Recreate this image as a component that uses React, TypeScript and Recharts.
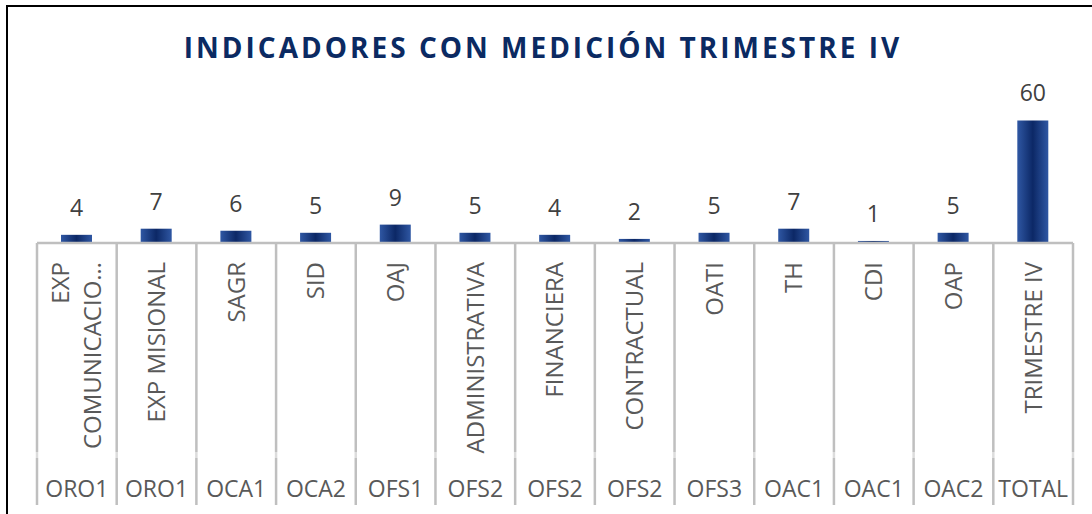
import { BarChart, Bar, XAxis, YAxis, LabelList } from "recharts"

const categories = [
    "EXP\nCOMUNICACIO…",
    "EXP MISIONAL",
    "SAGR",
    "SID",
    "OAJ",
    "ADMINISTRATIVA",
    "FINANCIERA",
    "CONTRACTUAL",
    "OATI",
    "TH",
    "CDI",
    "OAP",
    "TRIMESTRE IV",
]

const groups = [
    "ORO1", "ORO1", "OCA1", "OCA2", "OFS1", "OFS2", "OFS2",
    "OFS2", "OFS3", "OAC1", "OAC1", "OAC2", "TOTAL",
]

const values = [4, 7, 6, 5, 9, 5, 4, 2, 5, 7, 1, 5, 60]

const TITLE = "INDICADORES CON MEDICIÓN TRIMESTRE IV"

const W = 1092
const H = 514
const LEFT = 37
const RIGHT = 1073
const AXIS_Y = 243
const BAND = (RIGHT - LEFT) / categories.length
const FONT = "'Open Sans', 'Noto Sans', sans-serif"
const TEXT = "#595959"
const GRID = "#bfbfbf"

const data = categories.map((name, i) => ({
    name,
    group: groups[i],
    value: values[i],
}))

function CategoryTick(props: any) {
    const { x, payload, index } = props
    const lines = String(payload.value).split("\n")
    const left = x - BAND / 2
    const right = x + BAND / 2
    const isLast = index === categories.length - 1

    const sep = (lx: number, k: string) => (
        <g key={k}>
            <line x1={lx} x2={lx} y1={AXIS_Y} y2={452} stroke={GRID} strokeWidth={2.5} />
            <line x1={lx} x2={lx} y1={452} y2={458} stroke="#dcdcdc" strokeWidth={2.5} />
            <line x1={lx} x2={lx} y1={458} y2={505} stroke={GRID} strokeWidth={2.5} />
        </g>
    )

    return (
        <g>
            {sep(left, "l")}
            {isLast && sep(right, "r")}
            {lines.map((line, i) => {
                const lx = x + (i - (lines.length - 1) / 2) * 32
                const ty = 262
                return (
                    <text
                        key={i}
                        x={lx}
                        y={ty}
                        transform={`rotate(-90 ${lx} ${ty})`}
                        textAnchor="end"
                        dy="0.35em"
                        fill={TEXT}
                        fontSize={24}
                        fontFamily={FONT}
                    >
                        {line}
                    </text>
                )
            })}
            <text
                x={x}
                y={497}
                textAnchor="middle"
                fill={TEXT}
                fontSize={23}
                fontFamily={FONT}
            >
                {groups[index]}
            </text>
        </g>
    )
}

export default function App() {
    return (
        <div
            style={{
                position: "absolute",
                left: 0,
                top: 0,
                width: W,
                height: H,
                overflow: "hidden",
                background: "#ffffff",
            }}
        >
            <div
                style={{
                    position: "absolute",
                    left: 6,
                    top: 5,
                    width: W + 50,
                    height: H + 50,
                    borderLeft: "2px solid #000",
                    borderTop: "2px solid #000",
                }}
            />
            <svg width={W} height={80} style={{ position: "absolute", left: 0, top: 0 }}>
                <text
                    x={543}
                    y={58}
                    textAnchor="middle"
                    fill="#0b2a62"
                    fontSize={28}
                    fontWeight={700}
                    letterSpacing={3}
                    fontFamily={FONT}
                >
                    {TITLE}
                </text>
            </svg>
            <div style={{ position: "absolute", left: 0, top: 0 }}>
                <BarChart
                    width={W}
                    height={H}
                    data={data}
                    margin={{ top: 100, right: W - RIGHT, bottom: 0, left: LEFT }}
                >
                    <defs>
                        <linearGradient id="barGrad" x1="0" y1="0" x2="1" y2="0">
                            <stop offset="0%" stopColor="#2f57a3" />
                            <stop offset="50%" stopColor="#0c2866" />
                            <stop offset="100%" stopColor="#2f57a3" />
                        </linearGradient>
                    </defs>
                    <XAxis
                        dataKey="name"
                        interval={0}
                        height={H - AXIS_Y}
                        tickLine={false}
                        axisLine={{ stroke: GRID, strokeWidth: 2.5 }}
                        tick={<CategoryTick />}
                    />
                    <YAxis hide domain={[0, 70]} />
                    <Bar dataKey="value" fill="url(#barGrad)" barSize={31} isAnimationActive={false}>
                        <LabelList
                            dataKey="value"
                            position="top"
                            offset={19}
                            fill="#404040"
                            fontSize={23}
                            fontFamily={FONT}
                        />
                    </Bar>
                </BarChart>
            </div>
        </div>
    )
}
